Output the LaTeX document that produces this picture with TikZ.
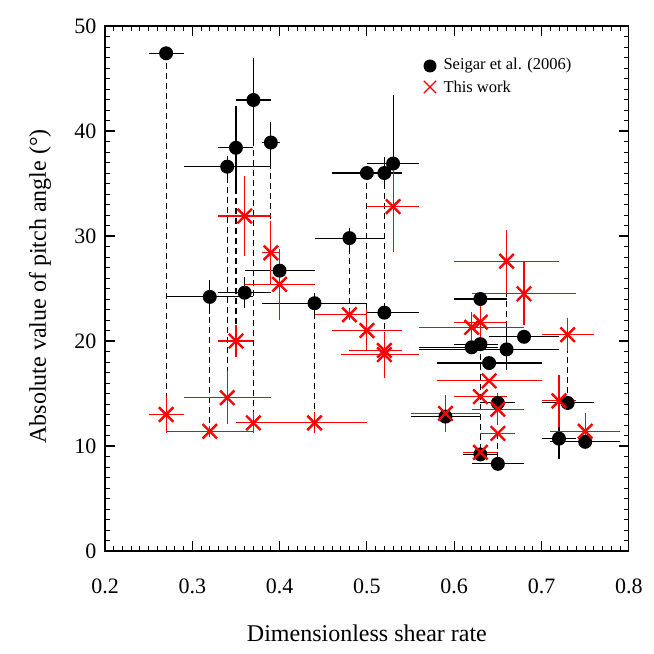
\documentclass[tikz,border=0pt]{standalone}
\usepackage{fontspec}
\setmainfont{Liberation Serif}
\usetikzlibrary{shapes.misc}
\tikzset{
 bdot/.style={circle,fill=black,inner sep=0pt,minimum size=14pt},
 rx/.style={cross out,draw=red,line width=2.4pt,inner sep=0pt,minimum size=12pt},
 bbar/.style={black,line width=1.1pt},
 rbar/.style={red,line width=1.1pt},
 link/.style={black,line width=1.1pt,dash pattern=on 6pt off 4pt},
 ticklab/.style={font=\fontsize{22}{24}\selectfont},
}
\begin{document}
\begin{tikzpicture}[x=1pt,y=1pt]
\useasboundingbox (0,0) rectangle (654,654);
\begin{scope}[shift={(105-0.2*873,103)},x=873pt,y=10.5pt]
% data nodes (coordinates)
\foreach \n/\x/\y in {b1/0.27/47.4,b2/0.37/42.95,b3/0.35/38.4,b4/0.34/36.6,b5/0.39/38.9,b6/0.36/24.6,b7/0.40/26.7,b8/0.32/24.2,b9/0.44/23.6,b10/0.48/29.8,b11/0.50/36.0,b12/0.52/36.0,b13/0.53/36.9,b14/0.52/22.7,b15/0.66/19.2,b16/0.68/20.4,b17/0.63/24.0,b18/0.62/19.4,b19/0.63/19.7,b20/0.64/17.9,b21/0.65/14.1,b22/0.65/8.3,b23/0.63/9.2,b24/0.59/12.8,b25/0.73/14.1,b26/0.72/10.7,b27/0.75/10.4,
 r1/0.27/13.0,r2/0.37/12.2,r3/0.35/20.0,r4/0.34/14.6,r5/0.39/28.4,r6/0.36/31.9,r7/0.40/25.4,r8/0.32/11.4,r9/0.44/12.2,r10/0.48/22.5,r11/0.50/21.0,r12/0.52/18.7,r12b/0.52/19.1,r13/0.53/32.8,r14/0.66/27.6,r15/0.68/24.5,r16/0.63/21.8,r17/0.62/21.3,r18/0.64/16.2,r19/0.63/14.7,r20/0.65/13.5,r21/0.65/11.2,r22/0.63/9.4,r23/0.59/13.1,r24/0.72/14.3,r25/0.73/20.6,r26/0.75/11.4}
 \coordinate (\n) at (\x,\y);
% dashed links
\foreach \a/\b in {b1/r1,b2/r2,b3/r3,b4/r4,b5/r5,b8/r8,b9/r9,b10/r10,b11/r11,b12/b14,b14/r12,b13/r13,r14/b15,b19/r22,r21/b22,b25/r25}
 \draw[link] (\a) -- (\b);
% black error bars
\foreach \n/\x/\y/\l/\h/\e in {b1/0.27/47.4/0.25/0.29/0,b2/0.37/42.95/0.35/0.39/4,b3/0.35/38.4/0.33/0.37/4,b4/0.34/36.6/0.29/0.39/1,b5/0.39/38.9/0.38/0.40/2,b6/0.36/24.6/0.33/0.39/1.5,b7/0.40/26.7/0.36/0.44/1,b8/0.32/24.2/0.27/0.37/1.6,b9/0.44/23.6/0.38/0.50/1,b10/0.48/29.8/0.44/0.52/1,b11/0.50/36.0/0.46/0.52/0,b12/0.52/36.0/0.50/0.54/1.5,b13/0.53/36.9/0.50/0.56/6.5,b14/0.52/22.7/0.50/0.56/0,b15/0.66/19.2/0.56/0.72/2,b16/0.68/20.4/0.64/0.72/0,b17/0.63/24.0/0.60/0.66/0,b18/0.62/19.4/0.56/0.65/0,b19/0.63/19.7/0.60/0.65/0,b20/0.64/17.9/0.58/0.70/0,b21/0.65/14.1/0.63/0.67/0,b22/0.65/8.3/0.62/0.68/0,b23/0.63/9.2/0.61/0.65/0,b24/0.59/12.8/0.55/0.63/0,b25/0.73/14.1/0.70/0.76/0,b26/0.72/10.7/0.70/0.74/1.9,b27/0.75/10.4/0.71/0.79/0}
 {\draw[bbar] (\l,\y) -- (\h,\y);
  \draw[bbar] (\x,{\y-\e}) -- (\x,{\y+\e});}
% red error bars
\foreach \n/\x/\y/\l/\h/\e in {r1/0.27/13.0/0.25/0.29/1.8,r2/0.37/12.2/0.35/0.39/1,r3/0.35/20.0/0.33/0.37/1.5,r4/0.34/14.6/0.29/0.39/2.5,r5/0.39/28.4/0.38/0.40/3,r6/0.36/31.9/0.33/0.39/3.8,r7/0.40/25.4/0.36/0.44/3.4,r8/0.32/11.4/0.27/0.37/0.5,r9/0.44/12.2/0.35/0.50/1,r10/0.48/22.5/0.44/0.50/0.5,r11/0.50/21.0/0.46/0.54/2,r12/0.52/18.7/0.47/0.56/2.2,r12b/0.52/19.1/0.48/0.54/0,r13/0.53/32.8/0.50/0.56/4.3,r14/0.66/27.6/0.60/0.72/3,r15/0.68/24.5/0.62/0.74/3,r16/0.63/21.8/0.60/0.66/1.5,r17/0.62/21.3/0.56/0.68/1.5,r18/0.64/16.2/0.58/0.70/0,r19/0.63/14.7/0.60/0.66/0,r20/0.65/13.5/0.62/0.68/1.5,r21/0.65/11.2/0.63/0.67/0,r22/0.63/9.4/0.61/0.65/0,r23/0.59/13.1/0.55/0.63/1.8,r24/0.72/14.3/0.70/0.74/2.5,r25/0.73/20.6/0.70/0.76/1.6,r26/0.75/11.4/0.71/0.79/1.7}
 {\draw[rbar] (\l,\y) -- (\h,\y);
  \draw[rbar] (\x,{\y-\e}) -- (\x,{\y+\e});}
% markers
\foreach \n in {b1,b2,b3,b4,b5,b6,b7,b8,b9,b10,b11,b12,b13,b14,b15,b16,b17,b18,b19,b20,b21,b22,b23,b24,b25,b26,b27}
 \node[bdot] (m\n) at (\n) {};
\foreach \n in {r1,r2,r3,r4,r5,r6,r7,r8,r9,r10,r11,r12,r12b,r13,r14,r15,r16,r17,r18,r19,r20,r21,r22,r23,r24,r25,r26}
 \node[rx] (m\n) at (\n) {};
% frame and ticks
\draw[line width=1.3pt] (0.2,0) rectangle (0.8,50);
\foreach \i in {0,...,60}{
 \pgfmathsetmacro\xx{0.2+\i/100}
 \pgfmathtruncatemacro\md{mod(\i,10)}
 \ifnum\md=0
  \draw[line width=1.1pt] (\xx,0) -- ++(0,10pt) (\xx,50) -- ++(0,-10pt);
 \else
  \draw[line width=0.9pt] (\xx,0) -- ++(0,5pt) (\xx,50) -- ++(0,-5pt);
 \fi}
\foreach \i in {0,...,50}{
 \pgfmathtruncatemacro\md{mod(\i,10)}
 \ifnum\md=0
  \draw[line width=1.1pt] (0.2,\i) -- ++(10pt,0) (0.8,\i) -- ++(-10pt,0);
 \else
  \draw[line width=0.9pt] (0.2,\i) -- ++(5pt,0) (0.8,\i) -- ++(-5pt,0);
 \fi}
\foreach \v/\t in {0.2/0.2,0.3/0.3,0.4/0.4,0.5/0.5,0.6/0.6,0.7/0.7,0.8/0.8}
 \node[ticklab,anchor=north] (xl\t) at (\v,-2.3) {\t};
\foreach \v in {0,10,20,30,40,50}
 \node[ticklab,anchor=east] (yl\v) at ([xshift=-5pt]0.2,\v) {\v};
\node[font=\fontsize{24}{26}\selectfont] (xt) at (0.5,-7.8) {Dimensionless shear rate};
\node[font=\fontsize{24}{26}\selectfont,rotate=90] (yt) at ([xshift=-65pt]0.2,25.2) {Absolute value of pitch angle (°)};
\end{scope}
% legend
\node[bdot,minimum size=13pt] (lb) at (430,588) {};
\node[cross out,draw=red,line width=1.3pt,inner sep=0pt,minimum size=11pt] (lr) at (430,567) {};
\node[anchor=west,font=\fontsize{16.5}{18}\selectfont] (lbt) at (440,588) {Seigar et al. (2006)};
\node[anchor=west,font=\fontsize{16.5}{18}\selectfont] (lrt) at (440,567) {This work};
\end{tikzpicture}
\end{document}
